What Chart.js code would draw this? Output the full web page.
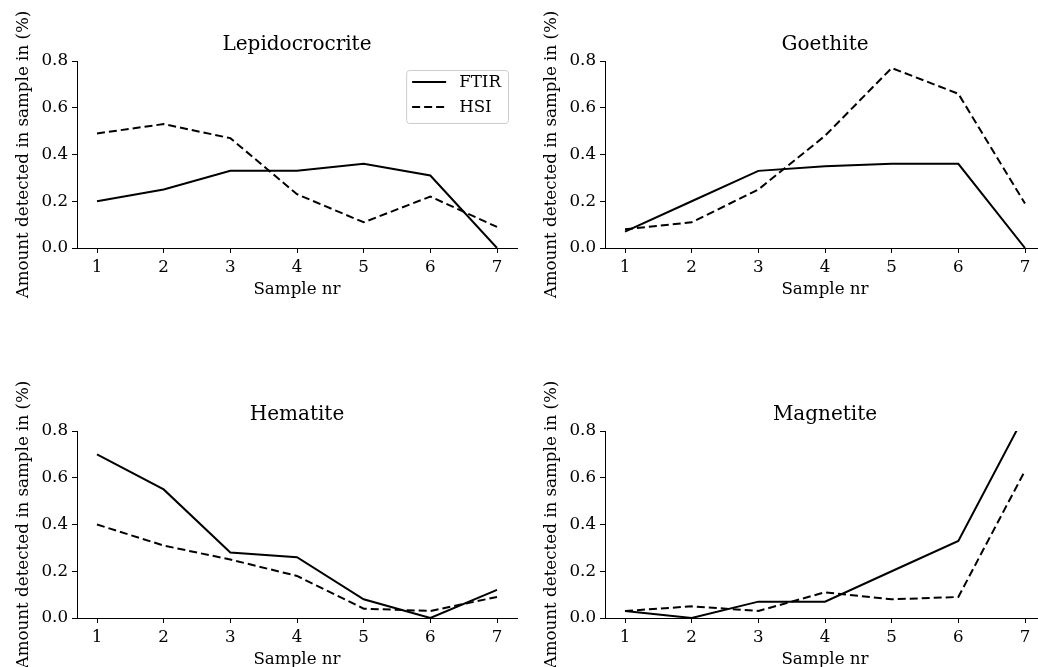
<!DOCTYPE html>
<html>
<head>
<meta charset="utf-8">
<script src="https://cdn.jsdelivr.net/npm/chart.js@4/dist/chart.umd.min.js"></script>
<style>
  body { margin: 0; background: #fff; overflow: hidden; }
  #wrap { position: relative; width: 1038px; height: 667px; overflow: hidden; background: #fff; }
  canvas { position: absolute; }
</style>
</head>
<body>
<div id="wrap">
  <canvas id="c0" width="520" height="310" style="left:0px;top:0px"></canvas>
  <canvas id="c1" width="520" height="310" style="left:528px;top:0px"></canvas>
  <canvas id="c2" width="520" height="310" style="left:0px;top:370px"></canvas>
  <canvas id="c3" width="520" height="310" style="left:528px;top:370px"></canvas>
</div>
<script>
const samples = [1, 2, 3, 4, 5, 6, 7];
const yTicks = [0, 0.2, 0.4, 0.6, 0.8];
const titles = ["Lepidocrocrite", "Goethite", "Hematite", "Magnetite"];
const seriesNames = ["FTIR", "HSI"];

const lepidoFtir = [0.20, 0.25, 0.33, 0.33, 0.36, 0.31, 0.00];
const lepidoHsi = [0.49, 0.53, 0.47, 0.23, 0.11, 0.22, 0.09];
const goethiteFtir = [0.07, 0.20, 0.33, 0.35, 0.36, 0.36, 0.00];
const goethiteHsi = [0.08, 0.11, 0.25, 0.48, 0.77, 0.66, 0.19];
const hematiteFtir = [0.70, 0.55, 0.28, 0.26, 0.08, 0.00, 0.12];
const hematiteHsi = [0.40, 0.31, 0.25, 0.18, 0.04, 0.03, 0.09];
const magnetiteFtir = [0.03, 0.00, 0.07, 0.07, 0.20, 0.33, 0.87];
const magnetiteHsi = [0.03, 0.05, 0.03, 0.11, 0.08, 0.09, 0.63];

const panels = [
  [lepidoFtir, lepidoHsi],
  [goethiteFtir, goethiteHsi],
  [hematiteFtir, hematiteHsi],
  [magnetiteFtir, magnetiteHsi],
];

const FONT = "DejaVu Serif";
const LBL = 16.7;

// title centred over the plot area (matplotlib style), not over the canvas
const areaTitle = {
  id: "areaTitle",
  afterDraw(chart, args, opts) {
    const ctx = chart.ctx;
    const area = chart.chartArea;
    ctx.save();
    ctx.font = "20px '" + FONT + "'";
    ctx.fillStyle = "#000";
    ctx.textAlign = "center";
    ctx.textBaseline = "middle";
    ctx.fillText(opts.text, (area.left + area.right) / 2, area.top - 16);
    ctx.restore();
  },
};

// legend box drawn inside the plot, top right (like loc='upper right')
const insideLegend = {
  id: "insideLegend",
  afterDraw(chart, args, opts) {
    if (!opts.show) return;
    const ctx = chart.ctx;
    const area = chart.chartArea;
    ctx.save();
    ctx.font = LBL + "px '" + FONT + "'";
    let tw = 0;
    chart.data.datasets.forEach((d) => { tw = Math.max(tw, ctx.measureText(d.label).width); });
    const w = 6 + 34 + 13 + tw + 7;
    const h = 53;
    const x0 = area.right - 9 - w;
    const y0 = area.top + 9;
    ctx.beginPath();
    ctx.roundRect(x0 + 0.5, y0 + 0.5, w, h, 3);
    ctx.fillStyle = "rgba(255,255,255,0.8)";
    ctx.fill();
    ctx.strokeStyle = "#cccccc";
    ctx.lineWidth = 1;
    ctx.stroke();
    chart.data.datasets.forEach((d, i) => {
      const y = y0 + 12 + i * 25;
      ctx.beginPath();
      ctx.setLineDash(d.borderDash || []);
      ctx.strokeStyle = d.borderColor;
      ctx.lineWidth = d.borderWidth;
      ctx.moveTo(x0 + 6, y);
      ctx.lineTo(x0 + 40, y);
      ctx.stroke();
      ctx.setLineDash([]);
      ctx.fillStyle = "#000";
      ctx.textBaseline = "middle";
      ctx.fillText(d.label, x0 + 53, y + 1);
    });
    ctx.restore();
  },
};

function makeChart(idx) {
  const [ftir, hsi] = panels[idx];
  const toPts = (arr) => samples.map((x, i) => ({ x: x, y: arr[i] }));
  return new Chart(document.getElementById("c" + idx), {
    type: "line",
    data: {
      datasets: [
        { label: seriesNames[0], data: toPts(ftir), borderColor: "#000", borderWidth: 2, pointRadius: 0, tension: 0, fill: false },
        { label: seriesNames[1], data: toPts(hsi), borderColor: "#000", borderWidth: 2, borderDash: [8, 4], pointRadius: 0, tension: 0, fill: false },
      ],
    },
    options: {
      responsive: false,
      animation: false,
      devicePixelRatio: 1,
      events: [],
      layout: { padding: { left: 0, right: 3, top: 61, bottom: 0 } },
      plugins: {
        legend: { display: false },
        tooltip: { enabled: false },
        title: { display: false },
        areaTitle: { text: titles[idx] },
        insideLegend: { show: idx === 0 },
      },
      scales: {
        x: {
          type: "linear",
          min: 0.7,
          max: 7.3,
          afterBuildTicks: (axis) => { axis.ticks = samples.map((v) => ({ value: v })); },
          afterFit: (axis) => { axis.height = 62; },
          ticks: {
            color: "#000",
            padding: 5,
            font: { family: FONT, size: LBL },
            callback: (v) => String(v),
          },
          grid: { display: true, drawOnChartArea: false, drawTicks: true, tickLength: 5, color: "#000", lineWidth: 1 },
          border: { display: true, color: "#000", width: 1 },
          title: { display: true, text: "Sample nr", color: "#000", font: { family: FONT, size: LBL }, padding: { top: 0, bottom: 10 } },
        },
        y: {
          type: "linear",
          min: 0,
          max: 0.8,
          afterBuildTicks: (axis) => { axis.ticks = yTicks.map((v) => ({ value: v })); },
          afterFit: (axis) => { axis.width = 77; },
          ticks: {
            color: "#000",
            padding: 4,
            font: { family: FONT, size: LBL },
            callback: (v) => Number(v).toFixed(1),
          },
          grid: { display: true, drawOnChartArea: false, drawTicks: true, tickLength: 5, color: "#000", lineWidth: 1 },
          border: { display: true, color: "#000", width: 1 },
          title: { display: true, text: "Amount detected in sample in (%)", color: "#000", font: { family: FONT, size: LBL }, padding: { top: 14, bottom: 0 } },
        },
      },
    },
    plugins: [areaTitle, insideLegend],
  });
}

[0, 1, 2, 3].forEach(makeChart);
</script>
</body>
</html>
